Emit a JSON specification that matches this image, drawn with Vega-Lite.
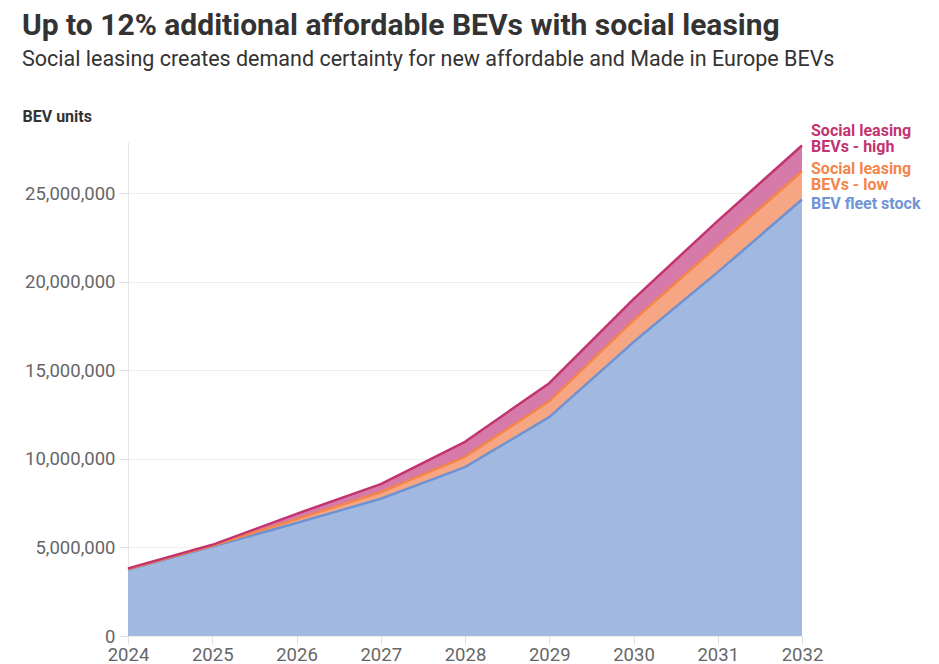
{
  "$schema": "https://vega.github.io/schema/vega-lite/v6.json",
  "width": 674,
  "height": 494,
  "autosize": {"type": "none"},
  "padding": {"left": 128, "top": 142, "right": 137, "bottom": 28},
  "background": "white",
  "config": {"font": "Roboto", "view": {"stroke": null}},
  "title": {
    "text": "Up to 12% additional affordable BEVs with social leasing",
    "subtitle": "Social leasing creates demand certainty for new affordable and Made in Europe BEVs",
    "anchor": "start",
    "frame": "group",
    "dx": -106,
    "offset": 38,
    "font": "Roboto",
    "fontSize": 30,
    "fontWeight": "bold",
    "color": "#333333",
    "subtitleFont": "Roboto",
    "subtitleFontSize": 21.5,
    "subtitleColor": "#333333",
    "subtitlePadding": 8
  },
  "data": {
    "values": [
      {"year": 2024, "series": "BEV fleet stock", "value": 3750000},
      {"year": 2025, "series": "BEV fleet stock", "value": 5050000},
      {"year": 2026, "series": "BEV fleet stock", "value": 6380000},
      {"year": 2027, "series": "BEV fleet stock", "value": 7750000},
      {"year": 2028, "series": "BEV fleet stock", "value": 9540000},
      {"year": 2029, "series": "BEV fleet stock", "value": 12360000},
      {"year": 2030, "series": "BEV fleet stock", "value": 16600000},
      {"year": 2031, "series": "BEV fleet stock", "value": 20550000},
      {"year": 2032, "series": "BEV fleet stock", "value": 24650000},
      {"year": 2024, "series": "Social leasing BEVs - low", "value": 3780000},
      {"year": 2025, "series": "Social leasing BEVs - low", "value": 5100000},
      {"year": 2026, "series": "Social leasing BEVs - low", "value": 6600000},
      {"year": 2027, "series": "Social leasing BEVs - low", "value": 8120000},
      {"year": 2028, "series": "Social leasing BEVs - low", "value": 10120000},
      {"year": 2029, "series": "Social leasing BEVs - low", "value": 13260000},
      {"year": 2030, "series": "Social leasing BEVs - low", "value": 17830000},
      {"year": 2031, "series": "Social leasing BEVs - low", "value": 22050000},
      {"year": 2032, "series": "Social leasing BEVs - low", "value": 26250000},
      {"year": 2024, "series": "Social leasing BEVs - high", "value": 3820000},
      {"year": 2025, "series": "Social leasing BEVs - high", "value": 5150000},
      {"year": 2026, "series": "Social leasing BEVs - high", "value": 6900000},
      {"year": 2027, "series": "Social leasing BEVs - high", "value": 8580000},
      {"year": 2028, "series": "Social leasing BEVs - high", "value": 10970000},
      {"year": 2029, "series": "Social leasing BEVs - high", "value": 14280000},
      {"year": 2030, "series": "Social leasing BEVs - high", "value": 19030000},
      {"year": 2031, "series": "Social leasing BEVs - high", "value": 23450000},
      {"year": 2032, "series": "Social leasing BEVs - high", "value": 27700000}
    ]
  },
  "encoding": {
    "x": {
      "field": "year",
      "type": "quantitative",
      "scale": {"domain": [2024, 2032], "nice": false, "zero": false},
      "axis": {
        "values": [2024, 2025, 2026, 2027, 2028, 2029, 2030, 2031, 2032],
        "format": "d",
        "title": null,
        "grid": false,
        "domain": false,
        "ticks": true,
        "tickColor": "#e0e0e0",
        "tickSize": 8,
        "labelFontSize": 18.5,
        "labelColor": "#666666",
        "labelPadding": 1,
        "labelFlush": false
      }
    },
    "y": {
      "field": "value",
      "type": "quantitative",
      "scale": {"domain": [0, 27900000], "nice": false},
      "axis": {
        "values": [0, 5000000, 10000000, 15000000, 20000000, 25000000],
        "format": ",d",
        "title": "BEV units",
        "titleAngle": 0,
        "titleAlign": "left",
        "titleBaseline": "middle",
        "titleX": -106,
        "titleY": -26,
        "titleFontSize": 16,
        "titleFontWeight": "bold",
        "titleColor": "#333333",
        "labelFontSize": 18.5,
        "labelColor": "#666666",
        "labelPadding": 4,
        "tickColor": "#e0e0e0",
        "tickSize": 9,
        "domain": true,
        "domainColor": "#e6e6e6",
        "gridColor": "#eeeeee"
      }
    }
  },
  "layer": [
    {
      "transform": [{"filter": "datum.series === 'Social leasing BEVs - high'"}],
      "mark": {"type": "area", "color": "#d57aa9", "opacity": 1}
    },
    {
      "transform": [{"filter": "datum.series === 'Social leasing BEVs - low'"}],
      "mark": {"type": "area", "color": "#f6a682", "opacity": 1}
    },
    {
      "transform": [{"filter": "datum.series === 'BEV fleet stock'"}],
      "mark": {"type": "area", "color": "#a1b9e0", "opacity": 1}
    },
    {
      "mark": {"type": "line", "strokeJoin": "round"},
      "encoding": {
        "color": {
          "field": "series",
          "type": "nominal",
          "scale": {
            "domain": ["BEV fleet stock", "Social leasing BEVs - low", "Social leasing BEVs - high"],
            "range": ["#6e92d2", "#f4854a", "#c2346f"]
          },
          "legend": null
        },
        "strokeWidth": {
          "field": "series",
          "type": "nominal",
          "scale": {
            "domain": ["BEV fleet stock", "Social leasing BEVs - low", "Social leasing BEVs - high"],
            "range": [2.5, 2.5, 3.5]
          },
          "legend": null
        }
      }
    },
    {
      "transform": [{"filter": "datum.series === 'Social leasing BEVs - high' && datum.year === 2032"}],
      "mark": {"type": "text", "text": ["Social leasing", "BEVs - high"], "align": "left", "baseline": "middle", "dx": 9, "dy": -15, "fontSize": 16, "fontWeight": "bold", "lineHeight": 16, "color": "#c2346f"}
    },
    {
      "transform": [{"filter": "datum.series === 'Social leasing BEVs - low' && datum.year === 2032"}],
      "mark": {"type": "text", "text": ["Social leasing", "BEVs - low"], "align": "left", "baseline": "middle", "dx": 9, "dy": -2, "fontSize": 16, "fontWeight": "bold", "lineHeight": 16, "color": "#f4854a"}
    },
    {
      "transform": [{"filter": "datum.series === 'BEV fleet stock' && datum.year === 2032"}],
      "mark": {"type": "text", "text": "BEV fleet stock", "align": "left", "baseline": "middle", "dx": 9, "dy": 4, "fontSize": 16, "fontWeight": "bold", "color": "#6f94d4"}
    }
  ]
}
